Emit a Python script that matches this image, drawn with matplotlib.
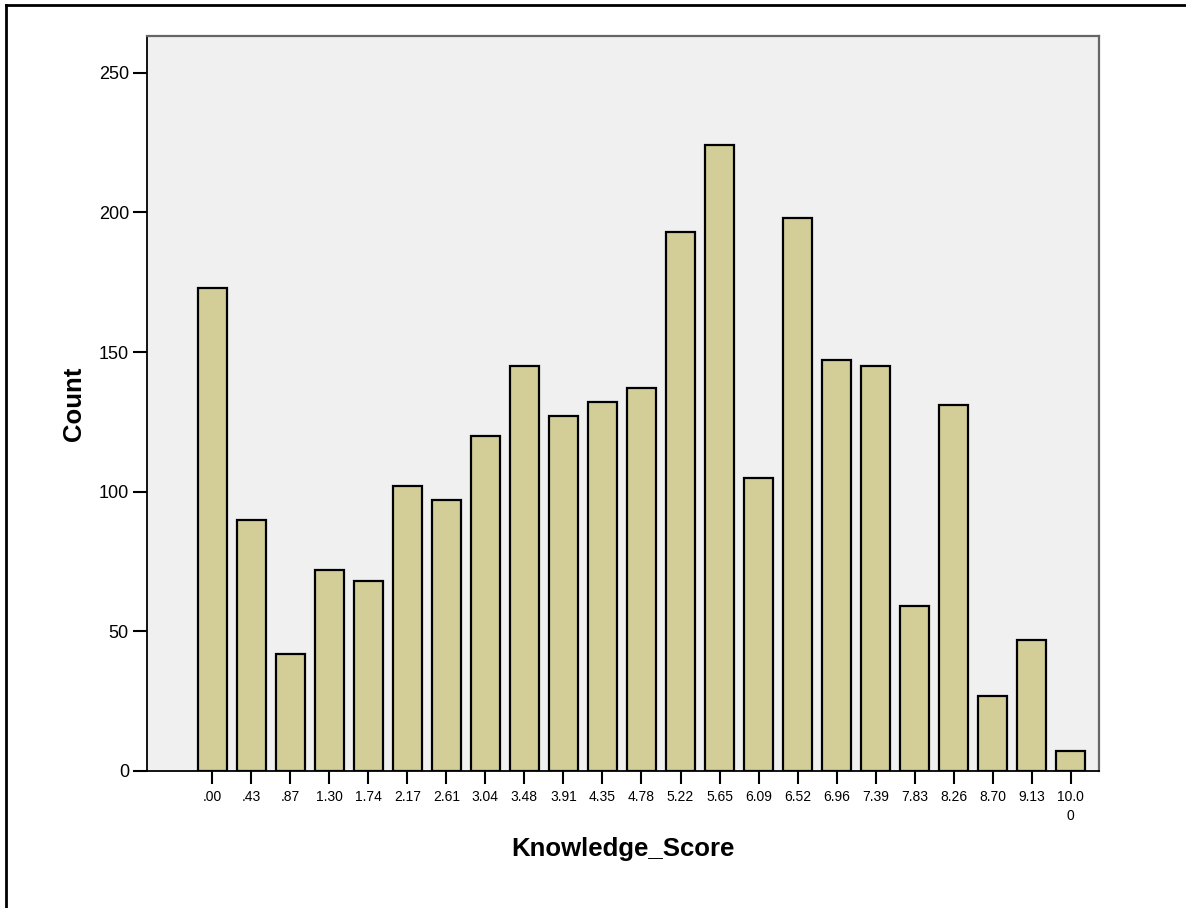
import numpy as np
import matplotlib
matplotlib.use("Agg")
import matplotlib.pyplot as plt
from matplotlib.lines import Line2D

plt.rcParams["font.family"] = ["Liberation Sans", "DejaVu Sans"]

scores = [".00", ".43", ".87", "1.30", "1.74", "2.17", "2.61", "3.04", "3.48",
          "3.91", "4.35", "4.78", "5.22", "5.65", "6.09", "6.52", "6.96", "7.39",
          "7.83", "8.26", "8.70", "9.13", "10.0\n0"]
counts = [173, 90, 42, 72, 68, 102, 97, 120, 145, 127, 132, 137, 193, 224,
          105, 198, 147, 145, 59, 131, 27, 47, 7]
y_ticks = [0, 50, 100, 150, 200, 250]

fig = plt.figure(figsize=(11.86, 9.08), dpi=100)
ax = fig.add_axes([0.1239, 0.1509, 0.8027, 0.8095])
ax.set_facecolor("#F0F0F0")

x = np.arange(len(scores))
ax.bar(x, counts, width=0.74, color="#D3CE97", edgecolor="black", linewidth=1.6)

ax.set_xlim(-1.67, 22.72)
ax.set_ylim(0, 263.2)
ax.set_xticks(x)
ax.set_xticklabels(scores, fontsize=10, linespacing=1.5)
ax.set_yticks(y_ticks)
ax.set_yticklabels([str(v) for v in y_ticks], fontsize=13)
ax.tick_params(axis="x", direction="out", length=9.5, width=1.5, pad=4)
ax.tick_params(axis="y", direction="out", length=10, width=1.5, pad=3)

for side in ["left", "bottom"]:
    ax.spines[side].set_color("black")
    ax.spines[side].set_linewidth(1.3)
for side in ["top", "right"]:
    ax.spines[side].set_color("#666666")
    ax.spines[side].set_linewidth(1.6)

ax.set_xlabel("Knowledge_Score", fontsize=18.5, fontweight="bold", labelpad=10)
ax.set_ylabel("Count", fontsize=18.5, fontweight="bold", labelpad=9)

# outer frame (top and left edges only)
fig.add_artist(Line2D([6 / 1186, 1.0], [1 - 5 / 908, 1 - 5 / 908],
                      transform=fig.transFigure, color="black", linewidth=2))
fig.add_artist(Line2D([6 / 1186, 6 / 1186], [0.0, 1 - 5 / 908],
                      transform=fig.transFigure, color="black", linewidth=2))

fig.savefig("out.png", dpi=100)
